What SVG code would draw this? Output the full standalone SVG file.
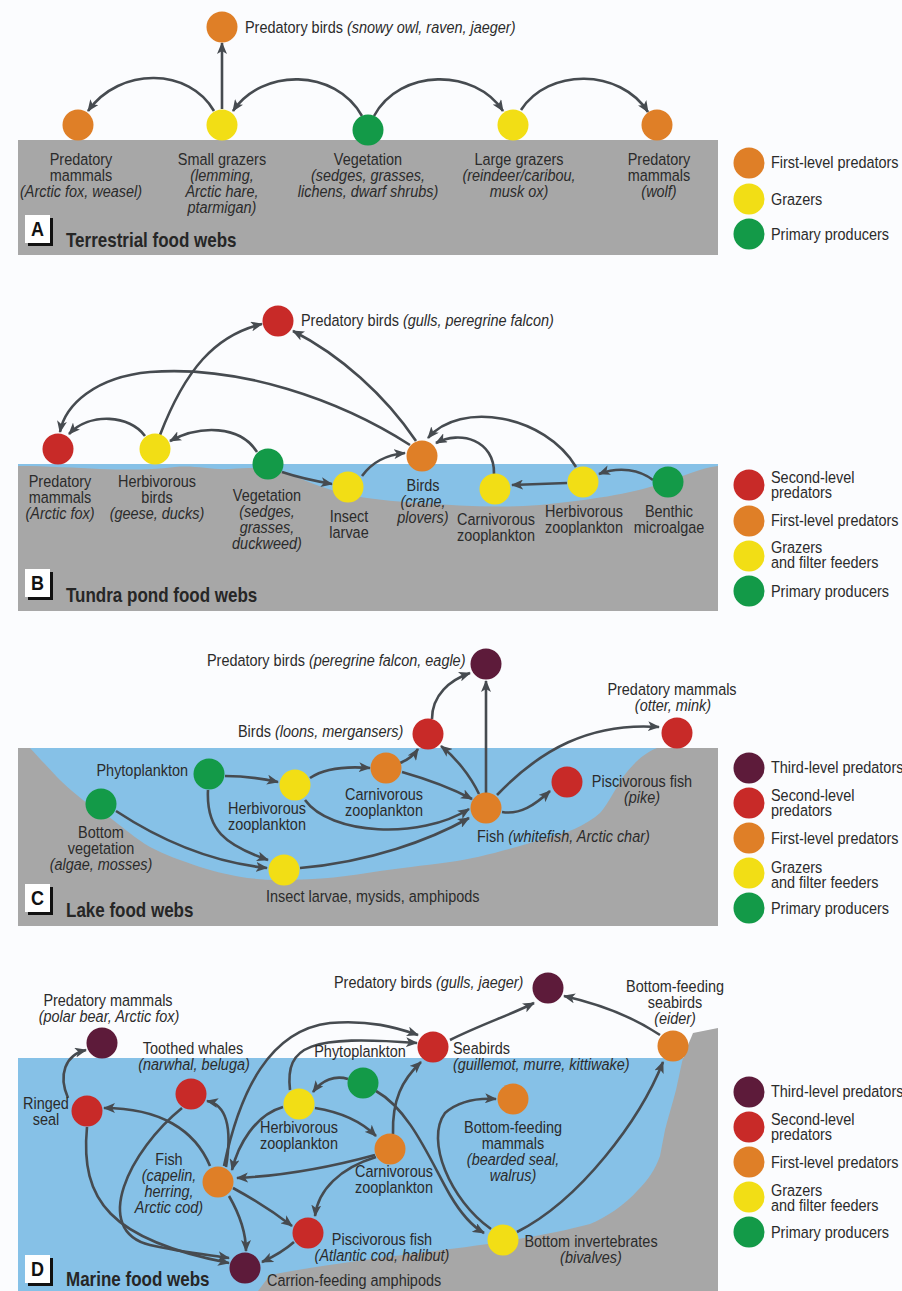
<svg xmlns="http://www.w3.org/2000/svg" width="902" height="1291" viewBox="0 0 902 1291">
<defs>
<style>
.t{font-family:"Liberation Sans",Arial,sans-serif;font-size:17px;fill:#2b2b2b;transform-box:fill-box;transform-origin:left center;transform:scaleX(.85)}
.i{font-style:italic}
.c{text-anchor:middle;transform-origin:center center}
.e{text-anchor:end;transform-origin:right center}
.h{font-family:"Liberation Sans",Arial,sans-serif;font-size:20px;font-weight:bold;fill:#262626;transform-box:fill-box;transform-origin:left center;transform:scaleX(.85)}
.bl{font-family:"Liberation Sans",Arial,sans-serif;font-size:20px;font-weight:bold;fill:#111;text-anchor:middle;transform-box:fill-box;transform-origin:center center;transform:scaleX(.9)}
.or{fill:#df7f27}
.ye{fill:#f2de15}
.gr{fill:#139a48}
.rd{fill:#c82a28}
.pu{fill:#5d1b3a}
.gray{fill:#a7a7a7}
.water{fill:#86c1e7}
.ar{fill:none;stroke:#464b50;stroke-width:2.6;marker-end:url(#ah)}
</style>
<marker id="ah" viewBox="0 0 12 10" refX="11" refY="5" markerWidth="12" markerHeight="10" markerUnits="userSpaceOnUse" orient="auto"><path d="M0,0 L12,5 L0,10 L3,5 z" fill="#464b50"/></marker>
</defs>
<rect x="0" y="0" width="902" height="1291" fill="#fbfcfe"/>

<!-- ===== Panel A backgrounds ===== -->
<g id="panel-a-bg">
<rect class="gray" x="18" y="140" width="700" height="115"/>
<rect x="28" y="218" width="25" height="28" fill="#111"/>
<rect x="25" y="215" width="25" height="28" fill="#fff"/>
<text class="bl" x="37.5" y="236">A</text>
<text class="h" x="66" y="247">Terrestrial food webs</text>
</g>

<!-- ===== Panel B backgrounds ===== -->
<g id="panel-b-bg">
<rect class="gray" x="18" y="464" width="700" height="147"/>
<path class="water" d="M18,464 L718,464 L718,466 C 700,468 685,476 660,484 C 630,494 590,500 540,505 C 500,508 460,506 420,503 C 390,501 370,499 350,495 C 320,488 300,478 280,471 C 265,467 250,468 230,469 C 210,470 195,465 175,467 C 150,470 130,470 100,469 C 75,468 50,466 18,466 Z"/>
<rect x="28" y="572" width="25" height="28" fill="#111"/>
<rect x="25" y="569" width="25" height="28" fill="#fff"/>
<text class="bl" x="37.5" y="590">B</text>
<text class="h" x="66" y="602">Tundra pond food webs</text>
</g>

<!-- ===== Panel C backgrounds ===== -->
<g id="panel-c-bg">
<rect class="gray" x="18" y="748" width="700" height="178"/>
<path class="water" d="M30,748 L657,748 C 640,755 630,768 623,777 C 612,795 605,808 600,813 C 585,826 565,834 550,837 C 520,846 480,858 450,862 C 420,866 400,868 380,871 C 350,876 320,880 280,880 C 245,880 220,873 200,867 C 180,860 165,855 150,847 C 135,838 125,829 113,820 C 100,810 92,807 83,800 C 72,791 65,785 57,777 C 48,767 38,757 30,748 Z"/>
<rect x="28" y="887" width="25" height="28" fill="#111"/>
<rect x="25" y="884" width="25" height="28" fill="#fff"/>
<text class="bl" x="37.5" y="905">C</text>
<text class="h" x="66" y="917">Lake food webs</text>
</g>

<!-- ===== Panel D backgrounds ===== -->
<g id="panel-d-bg">
<rect class="water" x="18" y="1058" width="690" height="233"/>
<path class="gray" d="M718,1028 L693,1033 C 688,1045 684,1055 682,1062 L676,1090 C 672,1105 668,1118 665,1130 L660,1156 C 655,1170 648,1180 638,1190 C 625,1205 605,1218 590,1224 C 560,1232 520,1240 450,1249 C 380,1258 320,1265 270,1275 L258,1291 L718,1291 Z"/>
<rect x="28" y="1258" width="25" height="28" fill="#111"/>
<rect x="25" y="1255" width="25" height="28" fill="#fff"/>
<text class="bl" x="37.5" y="1276">D</text>
<text class="h" x="66" y="1286">Marine food webs</text>
</g>

<!-- ===== Connectors ===== -->
<g id="connectors">
<!-- A -->
<path class="ar" d="M222,109 L222,43"/>
<path class="ar" d="M214,111 C 190,68 120,66 88,111"/>
<path class="ar" d="M362,116 C 335,68 262,68 233,111"/>
<path class="ar" d="M374,116 C 400,68 475,68 503,111"/>
<path class="ar" d="M521,110 C 548,68 620,68 648,112"/>
<!-- B -->
<path class="ar" d="M160,435 C 185,370 215,335 262,324"/>
<path class="ar" d="M416,441 C 385,395 340,355 293,331"/>
<path class="ar" d="M410,445 C 340,400 240,365 150,372 C 95,377 65,405 60,432"/>
<path class="ar" d="M145,436 C 130,415 90,412 69,434"/>
<path class="ar" d="M257,452 C 240,425 200,425 170,441"/>
<path class="ar" d="M282,472 C 300,478 315,481 332,484"/>
<path class="ar" d="M362,476 C 372,462 385,455 405,453"/>
<path class="ar" d="M494,474 C 495,440 460,430 436,443"/>
<path class="ar" d="M576,467 C 545,415 460,400 428,438"/>
<path class="ar" d="M567,483 L512,485"/>
<path class="ar" d="M653,480 C 640,470 620,466 599,474"/>
<!-- C -->
<path class="ar" d="M432,719 C 432,695 450,680 470,673"/>
<path class="ar" d="M486,793 L486,681"/>
<path class="ar" d="M479,794 C 470,775 455,757 441,746"/>
<path class="ar" d="M400,763 C 408,760 414,755 418,749"/>
<path class="ar" d="M402,772 C 430,780 455,790 472,799"/>
<path class="ar" d="M310,778 C 325,768 345,766 370,768"/>
<path class="ar" d="M305,800 C 330,835 420,840 469,809"/>
<path class="ar" d="M225,776 C 245,776 260,778 278,782"/>
<path class="ar" d="M208,790 C 206,830 225,845 268,860"/>
<path class="ar" d="M116,811 C 160,840 210,862 267,868"/>
<path class="ar" d="M300,868 C 370,862 430,840 469,818"/>
<path class="ar" d="M502,812 C 520,815 535,805 550,791"/>
<path class="ar" d="M497,795 C 540,750 590,722 659,727"/>
<!-- D -->
<path class="ar" d="M68,1098 C 58,1075 65,1055 86,1050"/>
<path class="ar" d="M210,1166 C 195,1130 160,1108 104,1108"/>
<path class="ar" d="M226,1167 C 232,1130 228,1105 207,1101"/>
<path class="ar" d="M182,1108 C 130,1150 90,1230 150,1245 C 180,1252 210,1255 229,1258"/>
<path class="ar" d="M87,1127 C 80,1200 110,1240 229,1263"/>
<path class="ar" d="M229,1196 C 240,1215 246,1232 246,1251"/>
<path class="ar" d="M294,1242 C 285,1250 275,1256 262,1262"/>
<path class="ar" d="M233,1188 C 255,1200 275,1213 292,1226"/>
<path class="ar" d="M375,1155 C 320,1170 280,1176 237,1178"/>
<path class="ar" d="M376,1157 C 340,1168 318,1190 315,1216"/>
<path class="ar" d="M283,1107 C 255,1115 238,1145 232,1170"/>
<path class="ar" d="M315,1108 C 340,1112 362,1122 376,1136"/>
<path class="ar" d="M348,1079 C 335,1075 322,1080 313,1092"/>
<path class="ar" d="M290,1090 C 285,1045 310,1035 417,1043"/>
<path class="ar" d="M224,1166 C 240,1090 270,1030 330,1023 C 370,1020 395,1027 418,1035"/>
<path class="ar" d="M393,1134 C 392,1100 402,1080 421,1062"/>
<path class="ar" d="M450,1040 C 480,1025 510,1015 534,1003"/>
<path class="ar" d="M660,1035 C 630,1015 595,1003 564,996"/>
<path class="ar" d="M517,1232 C 580,1200 640,1120 663,1062"/>
<path class="ar" d="M491,1229 C 450,1200 425,1140 445,1113 C 460,1100 480,1098 496,1099"/>
<path class="ar" d="M376,1091 C 410,1110 430,1160 450,1195 C 460,1212 470,1225 484,1233"/>
</g>

<!-- ===== Panel A nodes ===== -->
<g id="a-predatory-birds"><circle class="or" cx="222" cy="27" r="15.5"/><text class="t" x="245" y="33">Predatory birds <tspan class="i">(snowy owl, raven, jaeger)</tspan></text></g>
<g id="a-predatory-mammals-fox"><circle class="or" cx="78" cy="125" r="15.5"/><text class="t c" x="81" y="165">Predatory</text><text class="t c" x="81" y="181">mammals</text><text class="t c i" x="81" y="197">(Arctic fox, weasel)</text></g>
<g id="a-small-grazers"><circle class="ye" cx="222" cy="125" r="15.5"/><text class="t c" x="222" y="165">Small grazers</text><text class="t c i" x="222" y="181">(lemming,</text><text class="t c i" x="222" y="197">Arctic hare,</text><text class="t c i" x="222" y="213">ptarmigan)</text></g>
<g id="a-vegetation"><circle class="gr" cx="368" cy="130" r="15.5"/><text class="t c" x="368" y="165">Vegetation</text><text class="t c i" x="368" y="181">(sedges, grasses,</text><text class="t c i" x="368" y="197">lichens, dwarf shrubs)</text></g>
<g id="a-large-grazers"><circle class="ye" cx="513" cy="125" r="15.5"/><text class="t c" x="519" y="165">Large grazers</text><text class="t c i" x="519" y="181">(reindeer/caribou,</text><text class="t c i" x="519" y="197">musk ox)</text></g>
<g id="a-predatory-mammals-wolf"><circle class="or" cx="657" cy="125" r="15.5"/><text class="t c" x="659" y="165">Predatory</text><text class="t c" x="659" y="181">mammals</text><text class="t c i" x="659" y="197">(wolf)</text></g>
<g id="legend-a">
<circle class="or" cx="749" cy="163" r="15.5"/><text class="t" x="771" y="168">First-level predators</text>
<circle class="ye" cx="749" cy="199" r="15.5"/><text class="t" x="771" y="205">Grazers</text>
<circle class="gr" cx="749" cy="234" r="15.5"/><text class="t" x="771" y="240">Primary producers</text>
</g>

<!-- ===== Panel B nodes ===== -->
<g id="b-predatory-birds"><circle class="rd" cx="278" cy="321" r="15.5"/><text class="t" x="301" y="326">Predatory birds <tspan class="i">(gulls, peregrine falcon)</tspan></text></g>
<g id="b-predatory-mammals"><circle class="rd" cx="58" cy="449" r="15.5"/><text class="t c" x="60" y="487">Predatory</text><text class="t c" x="60" y="503">mammals</text><text class="t c i" x="60" y="519">(Arctic fox)</text></g>
<g id="b-herbivorous-birds"><circle class="ye" cx="155" cy="449" r="15.5"/><text class="t c" x="157" y="487">Herbivorous</text><text class="t c" x="157" y="503">birds</text><text class="t c i" x="157" y="519">(geese, ducks)</text></g>
<g id="b-vegetation"><circle class="gr" cx="268" cy="464" r="15.5"/><text class="t c" x="267" y="501">Vegetation</text><text class="t c i" x="267" y="517">(sedges,</text><text class="t c i" x="267" y="533">grasses,</text><text class="t c i" x="267" y="549">duckweed)</text></g>
<g id="b-insect-larvae"><circle class="ye" cx="348" cy="487" r="15.5"/><text class="t c" x="349" y="522">Insect</text><text class="t c" x="349" y="538">larvae</text></g>
<g id="b-birds"><circle class="or" cx="422" cy="456" r="15.5"/><text class="t c" x="423" y="491">Birds</text><text class="t c i" x="423" y="507">(crane,</text><text class="t c i" x="423" y="523">plovers)</text></g>
<g id="b-carnivorous-zooplankton"><circle class="ye" cx="495" cy="489" r="15.5"/><text class="t c" x="496" y="525">Carnivorous</text><text class="t c" x="496" y="541">zooplankton</text></g>
<g id="b-herbivorous-zooplankton"><circle class="ye" cx="583" cy="482" r="15.5"/><text class="t c" x="584" y="517">Herbivorous</text><text class="t c" x="584" y="533">zooplankton</text></g>
<g id="b-benthic-microalgae"><circle class="gr" cx="668" cy="482" r="15.5"/><text class="t c" x="669" y="517">Benthic</text><text class="t c" x="669" y="533">microalgae</text></g>
<g id="legend-b">
<circle class="rd" cx="749" cy="485" r="15.5"/><text class="t" x="771" y="483">Second-level</text><text class="t" x="771" y="498">predators</text>
<circle class="or" cx="749" cy="521" r="15.5"/><text class="t" x="771" y="526">First-level predators</text>
<circle class="ye" cx="749" cy="556" r="15.5"/><text class="t" x="771" y="553">Grazers</text><text class="t" x="771" y="568">and filter feeders</text>
<circle class="gr" cx="749" cy="591" r="15.5"/><text class="t" x="771" y="597">Primary producers</text>
</g>

<!-- ===== Panel C nodes ===== -->
<g id="c-predatory-birds"><circle class="pu" cx="486" cy="664" r="15.5"/><text class="t" x="207" y="666">Predatory birds <tspan class="i">(peregrine falcon, eagle)</tspan></text></g>
<g id="c-birds"><circle class="rd" cx="428" cy="734" r="15.5"/><text class="t" x="238" y="737">Birds <tspan class="i">(loons, mergansers)</tspan></text></g>
<g id="c-predatory-mammals"><circle class="rd" cx="677" cy="733" r="15.5"/><text class="t c" x="672" y="695">Predatory mammals</text><text class="t c i" x="673" y="711">(otter, mink)</text></g>
<g id="c-phytoplankton"><circle class="gr" cx="209" cy="774" r="15.5"/><text class="t e" x="188" y="776">Phytoplankton</text></g>
<g id="c-bottom-vegetation"><circle class="gr" cx="101" cy="804" r="15.5"/><text class="t c" x="101" y="838">Bottom</text><text class="t c" x="101" y="854">vegetation</text><text class="t c i" x="101" y="870">(algae, mosses)</text></g>
<g id="c-herbivorous-zooplankton"><circle class="ye" cx="295" cy="785" r="15.5"/><text class="t c" x="267" y="814">Herbivorous</text><text class="t c" x="267" y="830">zooplankton</text></g>
<g id="c-carnivorous-zooplankton"><circle class="or" cx="386" cy="768" r="15.5"/><text class="t c" x="384" y="800">Carnivorous</text><text class="t c" x="384" y="816">zooplankton</text></g>
<g id="c-insect-larvae"><circle class="ye" cx="284" cy="870" r="15.5"/><text class="t" x="266" y="902">Insect larvae, mysids, amphipods</text></g>
<g id="c-fish"><circle class="or" cx="486" cy="808" r="15.5"/><text class="t" x="477" y="842">Fish <tspan class="i">(whitefish, Arctic char)</tspan></text></g>
<g id="c-piscivorous-fish"><circle class="rd" cx="567" cy="782" r="15.5"/><text class="t c" x="642" y="787">Piscivorous fish</text><text class="t c i" x="642" y="803">(pike)</text></g>
<g id="legend-c">
<circle class="pu" cx="749" cy="768" r="15.5"/><text class="t" x="771" y="773">Third-level predators</text>
<circle class="rd" cx="749" cy="803" r="15.5"/><text class="t" x="771" y="801">Second-level</text><text class="t" x="771" y="816">predators</text>
<circle class="or" cx="749" cy="838" r="15.5"/><text class="t" x="771" y="844">First-level predators</text>
<circle class="ye" cx="749" cy="873" r="15.5"/><text class="t" x="771" y="873">Grazers</text><text class="t" x="771" y="888">and filter feeders</text>
<circle class="gr" cx="749" cy="908" r="15.5"/><text class="t" x="771" y="914">Primary producers</text>
</g>

<!-- ===== Panel D nodes ===== -->
<g id="d-predatory-mammals"><circle class="pu" cx="102" cy="1043" r="15.5"/><text class="t c" x="108" y="1006">Predatory mammals</text><text class="t c i" x="109" y="1022">(polar bear, Arctic fox)</text></g>
<g id="d-ringed-seal"><circle class="rd" cx="87" cy="1111" r="15.5"/><text class="t c" x="46" y="1109">Ringed</text><text class="t c" x="46" y="1125">seal</text></g>
<g id="d-toothed-whales"><circle class="rd" cx="191" cy="1094" r="15.5"/><text class="t c" x="193" y="1054">Toothed whales</text><text class="t c i" x="194" y="1070">(narwhal, beluga)</text></g>
<g id="d-phytoplankton"><circle class="gr" cx="363" cy="1083" r="15.5"/><text class="t c" x="360" y="1057">Phytoplankton</text></g>
<g id="d-herbivorous-zooplankton"><circle class="ye" cx="299" cy="1104" r="15.5"/><text class="t c" x="299" y="1133">Herbivorous</text><text class="t c" x="299" y="1149">zooplankton</text></g>
<g id="d-seabirds"><circle class="rd" cx="433" cy="1047" r="15.5"/><text class="t" x="453" y="1054">Seabirds</text><text class="t i" x="453" y="1070">(guillemot, murre, kittiwake)</text></g>
<g id="d-predatory-birds"><circle class="pu" cx="548" cy="988" r="15.5"/><text class="t" x="334" y="988">Predatory birds <tspan class="i">(gulls, jaeger)</tspan></text></g>
<g id="d-bottom-feeding-seabirds"><circle class="or" cx="673" cy="1046" r="15.5"/><text class="t c" x="675" y="992">Bottom-feeding</text><text class="t c" x="675" y="1008">seabirds</text><text class="t c i" x="675" y="1024">(eider)</text></g>
<g id="d-bottom-feeding-mammals"><circle class="or" cx="513" cy="1099" r="15.5"/><text class="t c" x="513" y="1133">Bottom-feeding</text><text class="t c" x="513" y="1149">mammals</text><text class="t c i" x="513" y="1165">(bearded seal,</text><text class="t c i" x="513" y="1181">walrus)</text></g>
<g id="d-carnivorous-zooplankton"><circle class="or" cx="390" cy="1149" r="15.5"/><text class="t c" x="394" y="1177">Carnivorous</text><text class="t c" x="394" y="1193">zooplankton</text></g>
<g id="d-fish"><circle class="or" cx="218" cy="1182" r="15.5"/><text class="t c" x="169" y="1165">Fish</text><text class="t c i" x="169" y="1181">(capelin,</text><text class="t c i" x="169" y="1197">herring,</text><text class="t c i" x="169" y="1213">Arctic cod)</text></g>
<g id="d-piscivorous-fish"><circle class="rd" cx="308" cy="1233" r="15.5"/><text class="t c" x="382" y="1245">Piscivorous fish</text><text class="t c i" x="382" y="1261">(Atlantic cod, halibut)</text></g>
<g id="d-carrion-amphipods"><circle class="pu" cx="245" cy="1268" r="15.5"/><text class="t" x="267" y="1286">Carrion-feeding amphipods</text></g>
<g id="d-bottom-invertebrates"><circle class="ye" cx="503" cy="1240" r="15.5"/><text class="t c" x="591" y="1247">Bottom invertebrates</text><text class="t c i" x="591" y="1263">(bivalves)</text></g>
<g id="legend-d">
<circle class="pu" cx="749" cy="1092" r="15.5"/><text class="t" x="771" y="1097">Third-level predators</text>
<circle class="rd" cx="749" cy="1127" r="15.5"/><text class="t" x="771" y="1125">Second-level</text><text class="t" x="771" y="1140">predators</text>
<circle class="or" cx="749" cy="1162" r="15.5"/><text class="t" x="771" y="1168">First-level predators</text>
<circle class="ye" cx="749" cy="1197" r="15.5"/><text class="t" x="771" y="1196">Grazers</text><text class="t" x="771" y="1211">and filter feeders</text>
<circle class="gr" cx="749" cy="1232" r="15.5"/><text class="t" x="771" y="1238">Primary producers</text>
</g>
</svg>
